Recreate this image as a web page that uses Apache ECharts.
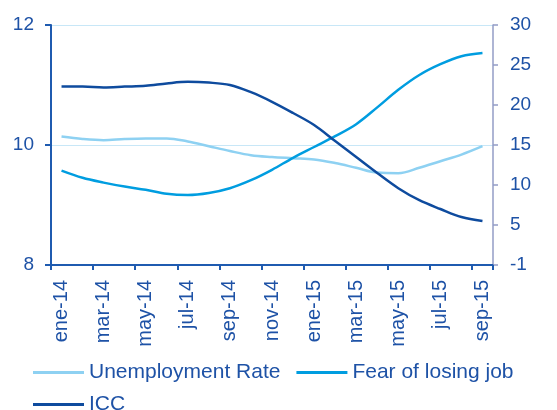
<!DOCTYPE html>
<html>
<head>
<meta charset="utf-8">
<script src="https://cdn.jsdelivr.net/npm/echarts@6/dist/echarts.min.js"></script>
<style>
html,body{margin:0;padding:0;background:#fff;}
#chart{width:557px;height:410px;}
</style>
</head>
<body>
<div id="chart"></div>
<script>
var categories = ['ene-14','feb-14','mar-14','abr-14','may-14','jun-14','jul-14','ago-14','sep-14','oct-14','nov-14','dic-14','ene-15','feb-15','mar-15','abr-15','may-15','jun-15','jul-15','ago-15','sep-15'];
var unemploymentRate = [10.14, 10.10, 10.08, 10.10, 10.11, 10.11, 10.06, 9.98, 9.90, 9.83, 9.80, 9.78, 9.76, 9.70, 9.62, 9.54, 9.53, 9.62, 9.73, 9.84, 9.98];
var fearOfLosingJob = [11.8, 10.9, 10.3, 9.8, 9.4, 8.9, 8.75, 9.0, 9.6, 10.6, 11.9, 13.4, 14.75, 16.1, 17.6, 19.7, 21.9, 23.75, 25.1, 26.1, 26.5];
var icc = [22.3, 22.3, 22.2, 22.3, 22.4, 22.7, 22.9, 22.8, 22.5, 21.6, 20.4, 19.0, 17.5, 15.5, 13.5, 11.5, 9.6, 8.1, 7.0, 6.0, 5.5];
var leftTicks = [8, 10, 12];
var rightTickLabels = ['-1', '5', '10', '15', '20', '25', '30'];

var textColor = '#1E52A6';
var font = 'Liberation Sans, Arial, sans-serif';
var chart = echarts.init(document.getElementById('chart'));
chart.setOption({
  animation: false,
  backgroundColor: '#fff',
  grid: {left: 51, right: 64, top: 25, bottom: 145},
  legend: [{
    left: 28, top: 357, itemWidth: 51, itemHeight: 3, itemGap: 16,
    icon: 'rect',
    textStyle: {color: textColor, fontSize: 21, fontFamily: font},
    data: ['Unemployment Rate', 'Fear of losing job']
  }, {
    left: 28, top: 389, itemWidth: 51, itemHeight: 3, itemGap: 16,
    icon: 'rect',
    textStyle: {color: textColor, fontSize: 21, fontFamily: font},
    data: ['ICC']
  }],
  xAxis: {
    type: 'category',
    data: categories,
    boundaryGap: true,
    axisLine: {lineStyle: {color: '#1F5BB0', width: 2}},
    axisTick: {show: true, interval: 1, length: 5, lineStyle: {color: '#1F5BB0', width: 2}},
    axisLabel: {interval: 1, rotate: 90, margin: 15, color: textColor, fontSize: 20, fontFamily: font},
    splitLine: {show: false}
  },
  yAxis: [{
    type: 'value', min: leftTicks[0], max: leftTicks[leftTicks.length - 1], interval: 2,
    position: 'left',
    axisLine: {show: true, lineStyle: {color: '#1F5BB0', width: 2}},
    axisTick: {show: true, length: 6, lineStyle: {color: '#1F5BB0', width: 2}},
    axisLabel: {margin: 17, color: textColor, fontSize: 19, fontFamily: font},
    splitLine: {show: true, lineStyle: {color: '#C8E7F7', width: 1}}
  }, {
    type: 'value', min: 0, max: 30, interval: 5,
    position: 'right',
    axisLine: {show: true, lineStyle: {color: '#939CC6', width: 1.5}},
    axisTick: {show: true, length: 5, lineStyle: {color: '#939CC6', width: 1.5}},
    axisLabel: {margin: 17, color: textColor, fontSize: 19, fontFamily: font,
      formatter: function (v) { return rightTickLabels[Math.round(v / 5)]; }},
    splitLine: {show: false}
  }],
  series: [{
    name: 'Unemployment Rate', type: 'line', yAxisIndex: 0, data: unemploymentRate,
    smooth: 0.35, showSymbol: false, symbol: 'none',
    lineStyle: {color: '#8ED1F2', width: 2.5}, itemStyle: {color: '#8ED1F2'}
  }, {
    name: 'Fear of losing job', type: 'line', yAxisIndex: 1, data: fearOfLosingJob,
    smooth: 0.35, showSymbol: false, symbol: 'none',
    lineStyle: {color: '#009DE0', width: 2.5}, itemStyle: {color: '#009DE0'}
  }, {
    name: 'ICC', type: 'line', yAxisIndex: 1, data: icc,
    smooth: 0.35, showSymbol: false, symbol: 'none',
    lineStyle: {color: '#0E4B9E', width: 2.5}, itemStyle: {color: '#0E4B9E'}
  }]
});
</script>
</body>
</html>
